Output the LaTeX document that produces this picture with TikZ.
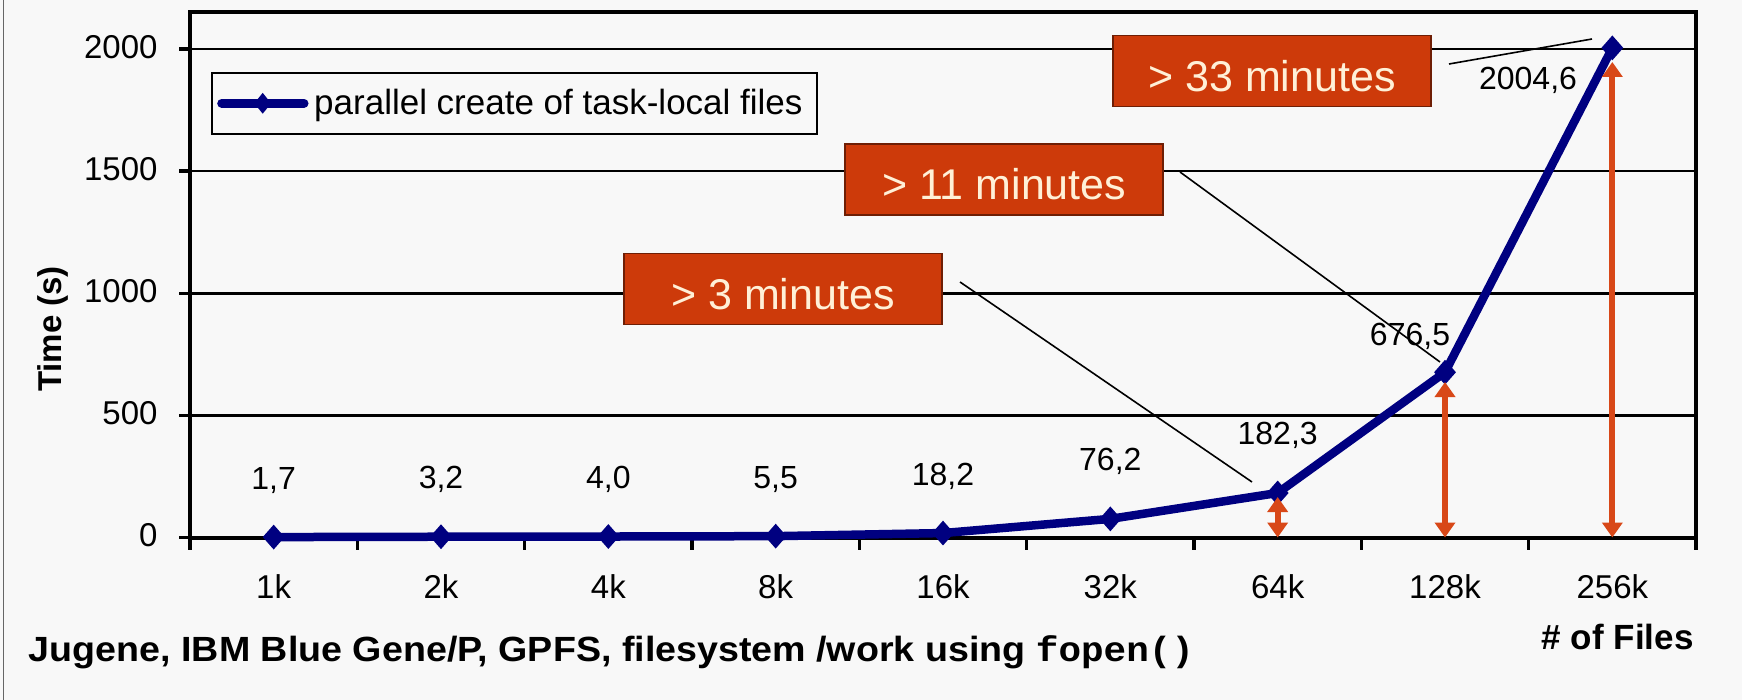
\documentclass[tikz,border=0pt]{standalone}
\usepackage{fontspec}
\setmainfont{Liberation Sans}
\setmonofont{Liberation Mono}
\usetikzlibrary{shapes.geometric,arrows.meta}

\definecolor{seriesblue}{RGB}{0,0,128}
\definecolor{calloutfill}{RGB}{205,58,10}
\definecolor{calloutedge}{RGB}{110,30,5}
\definecolor{callouttext}{RGB}{255,240,215}
\definecolor{arrowred}{RGB}{216,72,24}
\definecolor{paper}{RGB}{248,248,248}

\newcommand{\fsz}[1]{\fontsize{#1}{#1}\selectfont}

\begin{document}
\begin{tikzpicture}[x=1pt,y=-1pt,
  declare function={px(\i)=190+167.333*(\i+0.5); py(\v)=537.5-0.24425*\v;},
  gridline/.style={line width=2.5pt},
  frameline/.style={line width=4pt},
  tickmark/.style={line width=3.5pt},
  ylab/.style={anchor=base east,font=\fsz{33}},
  xlab/.style={anchor=base,font=\fsz{33}},
  datalab/.style={anchor=base,font=\fsz{32}},
  ptmark/.style={diamond,fill=seriesblue,inner sep=0pt,minimum width=22pt,minimum height=25pt},
  series/.style={seriesblue,line width=8.5pt,line join=round,line cap=round},
  callbox/.style={fill=calloutfill,draw=calloutedge,line width=1.5pt,
    minimum width=318pt,minimum height=71pt,text=callouttext,font=\fsz{43},
    text height=41pt,text depth=0pt,inner sep=0pt},
  leader/.style={line width=1.6pt},
  dblarrow/.style={arrowred,line width=6pt,
    {Triangle[width=20pt,length=15pt]}-{Triangle[width=20pt,length=15pt]}},
]
\useasboundingbox (0,0) rectangle (1742,700);
\fill[paper] (0,0) rectangle (1742,700);
\draw[black!60,line width=1.5pt] (3.5,0) -- (3.5,700);

% horizontal grid
\foreach \v in {500,1000,1500,2000}
  \draw[gridline] (190,{py(\v)}) -- (1696,{py(\v)});

% plot frame and ticks
\draw[frameline] (190,12) rectangle (1696,537.5);
\foreach \v in {0,500,1000,1500,2000}{
  \draw[tickmark] (179,{py(\v)}) -- (190,{py(\v)});
  \node[ylab] (y\v) at (161,{py(\v)+9}) {\v};
}
\foreach \k in {0,...,9}
  \draw[tickmark] ({190+167.333*\k},537.5) -- ({190+167.333*\k},549.5);
\foreach \lab [count=\i from 0] in {1k,2k,4k,8k,16k,32k,64k,128k,256k}
  \node[xlab] (x\i) at ({px(\i)},598) {\lab};

% axis titles
\node[rotate=90,font=\bfseries\fsz{33}] (ytitle) at (53,329) {Time (s)};
\node[anchor=base east,font=\bfseries\fsz{35}] (xtitle) at (1697,649) {\# of Files};
\node[anchor=base west,font=\bfseries\fsz{35},inner sep=0pt] (caption) at (28.7,661.7)
  {\scalebox{1.075}[1]{Jugene, IBM Blue Gene/P, GPFS, filesystem /work using \texttt{fopen()}}};

% data series
\foreach \v [count=\i from 0] in {1.7,3.2,4.0,5.5,18.2,76.2,182.3,676.5,2004.6}
  \coordinate (p\i) at ({px(\i)},{py(\v)});
\draw[series] (p0) -- (p1) -- (p2) -- (p3) -- (p4) -- (p5) -- (p6) -- (p7) -- (p8);
\foreach \i in {0,...,8}
  \node[ptmark] (m\i) at (p\i) {};

% value labels
\foreach \v/\t [count=\i from 0] in {1.7/{1,7},3.2/{3,2},4.0/{4,0},5.5/{5,5},18.2/{18,2},76.2/{76,2},182.3/{182,3}}
  \node[datalab] (d\i) at ({px(\i)},{py(\v)-48}) {\t};
\node[datalab] (d7) at (1410,345) {676,5};
\node[datalab] (d8) at (1528,90) {2004,6};

% growth arrows
\coordinate (a6b) at ({px(6)},537.5); \coordinate (a6t) at ({px(6)},497);
\coordinate (a7b) at ({px(7)},537.5); \coordinate (a7t) at ({px(7)},382);
\coordinate (a8b) at ({px(8)},537.5); \coordinate (a8t) at ({px(8)},62);
\draw[dblarrow] (a6b) -- (a6t);
\draw[dblarrow] (a7b) -- (a7t);
\draw[dblarrow] (a8b) -- (a8t);

% callouts
\node[callbox] (b3) at (783,289) {> 3 minutes};
\node[callbox] (b11) at (1004.2,179.5) {> 11 minutes};
\node[callbox] (b33) at (1272,71) {> 33 minutes};
\coordinate (l3a) at (960,282);   \coordinate (l3b) at (1252,482);
\coordinate (l11a) at (1180,172); \coordinate (l11b) at (1440,362);
\coordinate (l33a) at (1449,64);  \coordinate (l33b) at (1592,39);
\draw[leader] (l3a) -- (l3b);
\draw[leader] (l11a) -- (l11b);
\draw[leader] (l33a) -- (l33b);

% legend
\node[draw,line width=2pt,fill=paper,minimum width=605pt,minimum height=61.6pt,inner sep=0pt]
  (legend) at (514.2,103.5) {};
\coordinate (lg1) at (221.7,103.3); \coordinate (lg2) at (304,103.3);
\draw[series,line width=9pt] (lg1) -- (lg2);
\node[diamond,fill=seriesblue,inner sep=0pt,minimum width=17pt,minimum height=21pt] (lgm) at (262.7,103.3) {};
\node[anchor=base west,font=\fsz{35}] (legtext) at (310.7,115) {parallel create of task-local files};
\end{tikzpicture}
\end{document}
